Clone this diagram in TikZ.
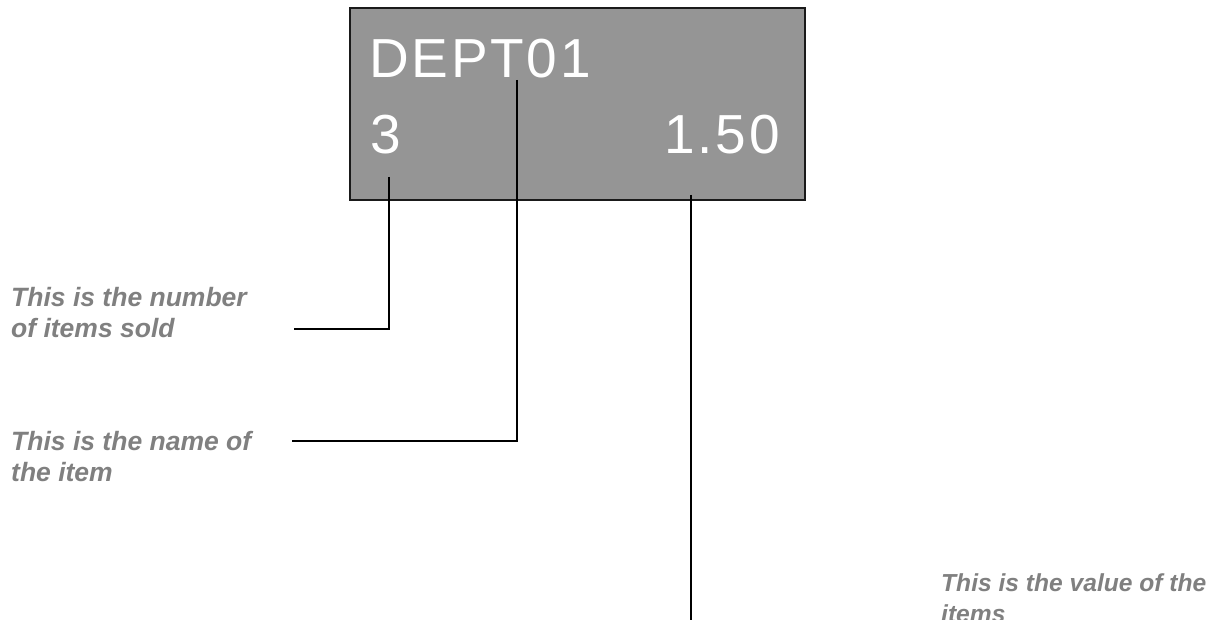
\documentclass[tikz,border=0pt]{standalone}
\usepackage{fontspec}
\setmainfont{Liberation Sans}
\newfontfamily\dispfont[LetterSpace=5]{Liberation Sans}
\definecolor{dispgray}{HTML}{959595}
\definecolor{labelgray}{HTML}{808080}
\definecolor{edgedark}{HTML}{1A1A1A}
\tikzset{
  display/.style={draw=edgedark, line width=2pt, fill=dispgray, minimum width=455pt, minimum height=192pt, inner sep=0pt},
  disptext/.style={text=white, inner sep=0pt, font=\dispfont\fontsize{55}{60}\selectfont},
  note/.style={text=labelgray, inner sep=0pt, align=left, anchor=north west, font=\bfseries\itshape\fontsize{26.5}{31}\selectfont},
  leader/.style={draw=black, line width=1.7pt}
}
\begin{document}
\begin{tikzpicture}[x=1pt,y=-1pt]
\useasboundingbox (0,0) rectangle (1210,620);
\node[display] (disp) at (577.5,104) {};
\node[disptext, anchor=base west] (name) at (369,78) {DEPT01};
\node[disptext, anchor=base west] (qty) at (370,154) {3};
\node[disptext, anchor=base east] (val) at (780,154) {1.50};

\node[note] (n1) at (11,287) {This is the number\\of items sold};
\node[note] (n2) at (11,431) {This is the name of\\the item};
\node[note, font=\bfseries\itshape\fontsize{24.6}{31}\selectfont] (n3) at (941,573) {This is the value of the\\items};

\coordinate (q0) at (389,177);
\coordinate (q1) at (389,329);
\coordinate (q2) at (294,329);
\coordinate (m0) at (517,80);
\coordinate (m1) at (517,441);
\coordinate (m2) at (292,441);
\coordinate (v0) at (691,195);
\coordinate (v1) at (691,620);

\draw[leader] (q0) -- (q1) -- (q2);
\draw[leader] (m0) -- (m1) -- (m2);
\draw[leader] (v0) -- (v1);
\end{tikzpicture}
\end{document}
